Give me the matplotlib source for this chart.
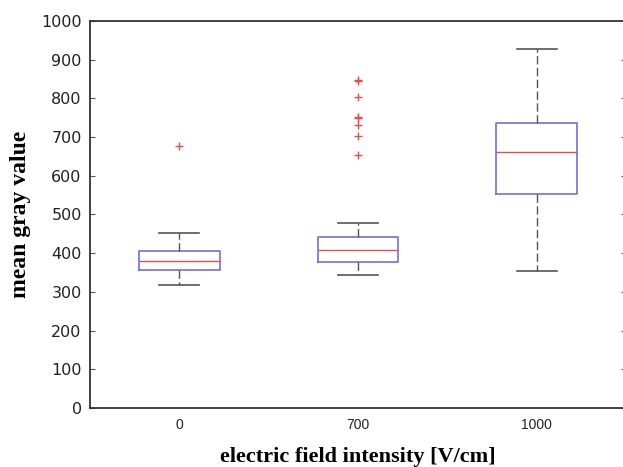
import matplotlib
matplotlib.use('Agg')
import matplotlib.pyplot as plt

# Box statistics
labels = ['0', '700', '1000']
whisker_low = [318, 343, 353]
q1 = [356, 378, 553]
median = [381, 409, 662]
q3 = [405, 441, 736]
whisker_high = [452, 477, 927]
fliers = [
    [678],
    [653, 702, 730, 750, 752, 803, 844, 848],
    [],
]

y_ticks = list(range(0, 1001, 100))

BOX_BLUE = '#6f6fd8'
MED_RED = '#e0504f'
GRAY = '#555555'
SPINE = '#333333'

stats = []
for i, label in enumerate(labels):
    stats.append({
        'label': label,
        'whislo': whisker_low[i],
        'q1': q1[i],
        'med': median[i],
        'q3': q3[i],
        'whishi': whisker_high[i],
        'fliers': fliers[i],
    })

fig = plt.figure(figsize=(6.23, 4.67), dpi=100)
# Right spine sits just past the canvas edge, as in the cropped original
ax = fig.add_axes([90 / 623, 59 / 467, 536 / 623, 387 / 467])

ax.bxp(
    stats,
    positions=[1, 2, 3],
    widths=0.45,
    showfliers=True,
    boxprops=dict(color=BOX_BLUE, linewidth=1.2),
    medianprops=dict(color=MED_RED, linewidth=1.0),
    whiskerprops=dict(color=GRAY, linewidth=1.0, linestyle=(0, (6, 2.5))),
    capprops=dict(color=GRAY, linewidth=1.2),
    flierprops=dict(marker='+', markeredgecolor=MED_RED, markersize=6, markeredgewidth=1.0),
)

ax.set_xlim(0.5, 3.5)
ax.set_ylim(0, 1000)
ax.set_yticks(y_ticks)
ax.set_yticklabels([str(v) for v in y_ticks], fontsize=11.5, family='DejaVu Sans', color='#222222')
ax.set_xticks([1, 2, 3])
ax.set_xticklabels(labels, fontsize=10, family='Liberation Sans', color='#222222')

ax.tick_params(axis='y', direction='in', length=3.5, width=0.8, color='#555555',
               left=True, right=True, pad=6)
ax.tick_params(axis='x', length=0, pad=7)

for name in ['left', 'bottom', 'top', 'right']:
    ax.spines[name].set_color(SPINE)
    ax.spines[name].set_linewidth(1.3)

ax.set_ylabel('mean gray value', family='Liberation Serif', fontweight='bold', fontsize=17, labelpad=7)
ax.set_xlabel('electric field intensity [V/cm]', family='Liberation Serif', fontweight='bold',
              fontsize=16, labelpad=11)

fig.savefig('out.png', dpi=100)
